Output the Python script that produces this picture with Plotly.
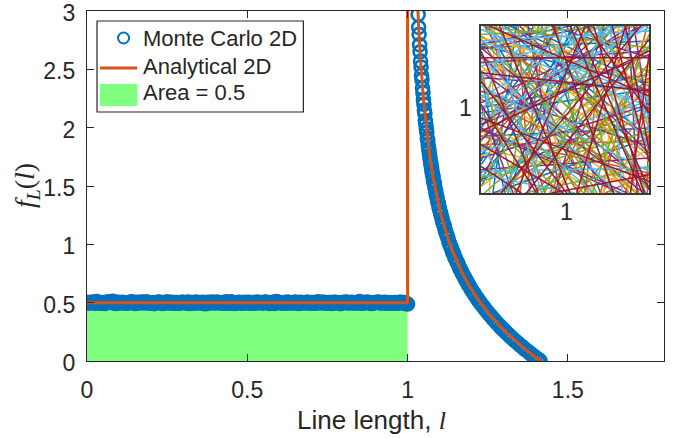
import plotly.graph_objects as go

# ---------------- data ----------------
# Monte Carlo histogram, flat part (0 <= l <= 1)
mc_flat_x = [0.00, 0.01, 0.02, 0.03, 0.04, 0.05, 0.06, 0.07, 0.08, 0.09,
             0.10, 0.11, 0.12, 0.13, 0.14, 0.15, 0.16, 0.17, 0.18, 0.19,
             0.20, 0.21, 0.22, 0.23, 0.24, 0.25, 0.26, 0.27, 0.28, 0.29,
             0.30, 0.31, 0.32, 0.33, 0.34, 0.35, 0.36, 0.37, 0.38, 0.39,
             0.40, 0.41, 0.42, 0.43, 0.44, 0.45, 0.46, 0.47, 0.48, 0.49,
             0.50, 0.51, 0.52, 0.53, 0.54, 0.55, 0.56, 0.57, 0.58, 0.59,
             0.60, 0.61, 0.62, 0.63, 0.64, 0.65, 0.66, 0.67, 0.68, 0.69,
             0.70, 0.71, 0.72, 0.73, 0.74, 0.75, 0.76, 0.77, 0.78, 0.79,
             0.80, 0.81, 0.82, 0.83, 0.84, 0.85, 0.86, 0.87, 0.88, 0.89,
             0.90, 0.91, 0.92, 0.93, 0.94, 0.95, 0.96, 0.97, 0.98, 0.99,
             1.00]
mc_flat_y = [0.503, 0.497, 0.501, 0.509, 0.495, 0.502, 0.498, 0.506, 0.511, 0.494,
             0.500, 0.504, 0.496, 0.499, 0.507, 0.493, 0.501, 0.505, 0.497, 0.502,
             0.498, 0.492, 0.503, 0.500, 0.496, 0.508, 0.499, 0.495, 0.502, 0.497,
             0.504, 0.499, 0.494, 0.501, 0.506, 0.498, 0.503, 0.491, 0.500, 0.505,
             0.497, 0.502, 0.499, 0.496, 0.503, 0.508, 0.494, 0.500, 0.498, 0.504,
             0.501, 0.495, 0.499, 0.506, 0.502, 0.497, 0.503, 0.493, 0.500, 0.509,
             0.504, 0.498, 0.496, 0.502, 0.499, 0.505, 0.494, 0.501, 0.497, 0.503,
             0.500, 0.496, 0.507, 0.498, 0.502, 0.495, 0.501, 0.504, 0.499, 0.492,
             0.503, 0.506, 0.497, 0.500, 0.498, 0.510, 0.496, 0.502, 0.499, 0.494,
             0.501, 0.505, 0.497, 0.503, 0.499, 0.496, 0.502, 0.498, 0.504, 0.500,
             0.488]
# extra histogram bins between the ones above (bin centres offset by half a step)
mc_mid_x = [0.005, 0.015, 0.025, 0.035, 0.045, 0.055, 0.065, 0.075, 0.085, 0.095,
            0.105, 0.115, 0.125, 0.135, 0.145, 0.155, 0.165, 0.175, 0.185, 0.195,
            0.205, 0.215, 0.225, 0.235, 0.245, 0.255, 0.265, 0.275, 0.285, 0.295,
            0.305, 0.315, 0.325, 0.335, 0.345, 0.355, 0.365, 0.375, 0.385, 0.395,
            0.405, 0.415, 0.425, 0.435, 0.445, 0.455, 0.465, 0.475, 0.485, 0.495,
            0.505, 0.515, 0.525, 0.535, 0.545, 0.555, 0.565, 0.575, 0.585, 0.595,
            0.605, 0.615, 0.625, 0.635, 0.645, 0.655, 0.665, 0.675, 0.685, 0.695,
            0.705, 0.715, 0.725, 0.735, 0.745, 0.755, 0.765, 0.775, 0.785, 0.795,
            0.805, 0.815, 0.825, 0.835, 0.845, 0.855, 0.865, 0.875, 0.885, 0.895,
            0.905, 0.915, 0.925, 0.935, 0.945, 0.955, 0.965, 0.975, 0.985, 0.995]
mc_mid_y = [0.499, 0.505, 0.496, 0.502, 0.500, 0.494, 0.507, 0.501, 0.497, 0.503,
            0.498, 0.502, 0.495, 0.506, 0.499, 0.503, 0.497, 0.501, 0.508, 0.496,
            0.502, 0.499, 0.505, 0.493, 0.501, 0.498, 0.504, 0.500, 0.496, 0.503,
            0.497, 0.506, 0.500, 0.495, 0.502, 0.499, 0.494, 0.504, 0.498, 0.501,
            0.505, 0.497, 0.500, 0.507, 0.496, 0.502, 0.499, 0.503, 0.495, 0.498,
            0.504, 0.500, 0.496, 0.501, 0.497, 0.505, 0.499, 0.502, 0.494, 0.503,
            0.498, 0.501, 0.506, 0.497, 0.500, 0.495, 0.503, 0.499, 0.504, 0.496,
            0.502, 0.498, 0.501, 0.505, 0.497, 0.500, 0.494, 0.503, 0.499, 0.496,
            0.501, 0.497, 0.504, 0.498, 0.502, 0.496, 0.500, 0.505, 0.493, 0.499,
            0.503, 0.498, 0.501, 0.496, 0.502, 0.499, 0.495, 0.503, 0.497, 0.493]

# Monte Carlo histogram, decaying part (1 < l <= sqrt(2))
mc_tail_x = [1.0330, 1.0345, 1.0360, 1.0375, 1.0390, 1.0405, 1.0420, 1.0435, 1.0450, 1.0465,
             1.0480, 1.0495, 1.0510, 1.0525, 1.0540, 1.0555, 1.0570, 1.0585, 1.0600, 1.0615,
             1.0630, 1.0645, 1.0660, 1.0675, 1.0690, 1.0705, 1.0720, 1.0735, 1.0750, 1.0765,
             1.0780, 1.0795, 1.0810, 1.0825, 1.0840,
             1.086, 1.088, 1.090, 1.092, 1.094, 1.096, 1.098, 1.100,
             1.1025, 1.105, 1.1075, 1.110, 1.1125, 1.115, 1.1175, 1.120,
             1.123, 1.126, 1.129, 1.132, 1.135, 1.138, 1.141, 1.144, 1.147, 1.150,
             1.154, 1.158, 1.162, 1.166, 1.170, 1.174, 1.178, 1.182, 1.186, 1.190,
             1.195, 1.200, 1.205, 1.210, 1.215, 1.220, 1.225, 1.230,
             1.236, 1.242, 1.248, 1.254, 1.260, 1.266, 1.272, 1.278,
             1.285, 1.292, 1.299, 1.306, 1.313, 1.320, 1.327, 1.334,
             1.342, 1.350, 1.358, 1.366, 1.374, 1.382, 1.390, 1.398, 1.406, 1.413]
mc_tail_y = [2.97, 2.86, 2.80, 2.71, 2.65, 2.57, 2.52, 2.45, 2.41, 2.34,
             2.30, 2.24, 2.20, 2.15, 2.12, 2.06, 2.03, 1.99, 1.96, 1.91,
             1.89, 1.85, 1.82, 1.79, 1.76, 1.73, 1.70, 1.68, 1.65, 1.62,
             1.60, 1.58, 1.55, 1.53, 1.51,
             1.48, 1.45, 1.42, 1.40, 1.37, 1.35, 1.32, 1.30,
             1.27, 1.25, 1.22, 1.19, 1.17, 1.15, 1.12, 1.10,
             1.08, 1.05, 1.02, 1.00, 0.98, 0.96, 0.93, 0.92, 0.89, 0.875,
             0.85, 0.83, 0.80, 0.78, 0.757, 0.733, 0.716, 0.692, 0.676, 0.654,
             0.633, 0.607, 0.588, 0.565, 0.547, 0.524, 0.507, 0.486,
             0.467, 0.443, 0.424, 0.402, 0.385, 0.364, 0.347, 0.327,
             0.308, 0.286, 0.269, 0.248, 0.231, 0.211, 0.195, 0.176,
             0.158, 0.138, 0.121, 0.101, 0.085, 0.066, 0.050, 0.033, 0.017, 0.003]

# Analytical PDF
an_x = [0.0, 1.0, 1.0, 1.005, 1.01, 1.015, 1.02, 1.025, 1.03, 1.035, 1.04, 1.05, 1.06, 1.07,
        1.08, 1.09, 1.10, 1.11, 1.12, 1.13, 1.14, 1.15, 1.16, 1.17, 1.18, 1.19, 1.20, 1.21,
        1.22, 1.23, 1.24, 1.25, 1.26, 1.27, 1.28, 1.29, 1.30, 1.31, 1.32, 1.33, 1.34, 1.35,
        1.36, 1.37, 1.38, 1.39, 1.40, 1.41, 1.4142]
an_y = [0.5, 0.5, 10.0, 9.03, 6.11, 4.82, 4.05, 3.53, 3.14, 2.843, 2.60, 2.23, 1.955, 1.741,
        1.568, 1.423, 1.300, 1.194, 1.101, 1.017, 0.943, 0.875, 0.813, 0.756, 0.704, 0.655, 0.609, 0.566,
        0.526, 0.4875, 0.451, 0.4167, 0.384, 0.352, 0.322, 0.293, 0.265, 0.238, 0.212, 0.187, 0.162, 0.1386,
        0.1155, 0.0930, 0.0711, 0.0497, 0.0289, 0.0085, 0.0]

# Shaded area (unit area = 0.5)
area_x = [0.0, 1.0, 1.0, 0.0]
area_y = [0.0, 0.0, 0.5, 0.5]

# Inset: chords of the unit square, endpoints given as perimeter positions (0..4)
chords = [(0.12, 2.35), (0.45, 1.78), (3.21, 1.44), (0.83, 3.62), (2.10, 3.05), (1.15, 3.87), (0.27, 1.92),
          (2.64, 0.71), (3.44, 1.09), (0.05, 2.92), (1.62, 3.31), (2.28, 0.38), (3.75, 1.55), (0.96, 2.47),
          (1.33, 2.81), (3.08, 0.58), (0.61, 1.27), (2.55, 3.93), (1.88, 0.19), (3.57, 2.02), (0.34, 3.15),
          (1.71, 3.49), (2.97, 0.88), (0.73, 2.18), (3.86, 1.21), (1.06, 2.66), (0.18, 3.71), (2.43, 1.02),
          (3.29, 0.14), (1.49, 2.31), (0.52, 2.73), (3.68, 2.24), (1.95, 0.66), (2.86, 3.58), (0.89, 1.83),
          (3.12, 1.66), (0.41, 2.07), (1.24, 3.18), (2.72, 0.47), (3.93, 1.37), (0.67, 3.41), (1.58, 2.95),
          (2.19, 3.77), (0.09, 1.61), (3.36, 0.93), (1.81, 2.58), (0.77, 2.39), (2.51, 0.29), (3.63, 1.85),
          (1.39, 3.66), (0.23, 2.61), (2.92, 1.19), (3.17, 0.79), (1.02, 2.96), (0.56, 3.89), (2.37, 1.48),
          (3.81, 2.69), (1.69, 0.31), (0.94, 3.24), (2.04, 3.46), (0.31, 1.39), (3.49, 1.99), (1.19, 2.22),
          (2.79, 0.07), (0.64, 2.84), (3.02, 1.73), (1.53, 3.79), (0.14, 2.12), (2.23, 0.84), (3.71, 0.49),
          (1.91, 3.13), (0.86, 1.58), (2.61, 3.34), (3.39, 1.28), (0.47, 3.52), (1.27, 2.53), (2.14, 0.57),
          (3.96, 2.44), (0.71, 2.01), (1.76, 3.96), (2.47, 3.11), (0.02, 1.87), (3.24, 2.16), (1.11, 0.42),
          (2.83, 1.61), (0.38, 2.96), (3.55, 0.68), (1.44, 2.09), (0.92, 3.08), (2.31, 1.26), (3.84, 0.24),
          (1.64, 2.74), (0.58, 1.51), (2.68, 3.69), (3.14, 2.34), (0.21, 3.27), (1.97, 3.09), (0.79, 2.57),
          (2.41, 3.83), (3.66, 1.12), (1.36, 0.72), (0.44, 2.27), (2.99, 1.87), (3.31, 2.59), (1.07, 3.55),
          (0.16, 2.46), (2.58, 0.94), (3.78, 1.71), (1.85, 3.22), (0.69, 2.91), (2.16, 1.37), (3.47, 0.33),
          (1.22, 2.86), (0.99, 1.69), (2.74, 3.44), (3.59, 2.11), (0.26, 1.16), (1.57, 3.02), (2.05, 0.12),
          (0.07, 1.33), (2.33, 3.74), (1.41, 2.69), (3.27, 0.97), (0.62, 2.55), (1.13, 3.36), (2.89, 0.53),
          (3.52, 1.62), (0.29, 2.78), (1.67, 3.07), (2.12, 0.93), (3.91, 1.46), (0.81, 3.19), (1.26, 2.14),
          (2.53, 3.61), (3.06, 1.34), (0.42, 1.66), (1.83, 3.59), (2.66, 0.16), (3.43, 2.29), (0.97, 2.33),
          (1.52, 3.92), (2.27, 0.62), (3.73, 1.03), (0.19, 3.48), (1.72, 2.44), (2.94, 0.36), (3.19, 1.81),
          (0.66, 2.98), (1.31, 3.71), (2.08, 3.27), (3.61, 0.87), (0.36, 1.74), (1.47, 2.88), (2.38, 0.21),
          (3.88, 2.07), (0.74, 1.12), (1.93, 3.64), (2.77, 1.24), (3.34, 0.61), (0.11, 2.24), (1.61, 3.28),
          (2.49, 0.98), (3.69, 2.53), (0.88, 2.42), (1.04, 3.13), (2.21, 3.91), (3.09, 1.52), (0.51, 3.33)]

matlab_colors = ['#0072BD', '#D95319', '#EDB120', '#7E2F8E', '#77AC30', '#4DBEEE', '#A2142F']


def perim(t):
    if t < 1:
        return t, 0.0
    if t < 2:
        return 1.0, t - 1
    if t < 3:
        return 3 - t, 1.0
    return 0.0, 4 - t


# ---------------- figure ----------------
AX = '#262626'
SANS = 'Liberation Sans'
SERIF = 'Liberation Serif'

fig = go.Figure()

fig.add_trace(go.Scatter(x=area_x, y=area_y, fill='toself', fillcolor='#80FF80',
                         mode='lines', line=dict(width=0), hoverinfo='skip'))

fig.add_trace(go.Scatter(x=mc_flat_x + mc_mid_x + mc_tail_x, y=mc_flat_y + mc_mid_y + mc_tail_y,
                         mode='markers',
                         marker=dict(symbol='circle-open', size=13, color='#0072BD',
                                     line=dict(width=2.6, color='#0072BD'))))

fig.add_trace(go.Scatter(x=an_x, y=an_y, mode='lines', line=dict(color='#D95319', width=3)))

for c, col in enumerate(matlab_colors):
    xs, ys = [], []
    for i, (t0, t1) in enumerate(chords):
        if i % len(matlab_colors) != c:
            continue
        x0, y0 = perim(t0)
        x1, y1 = perim(t1)
        xs += [x0, x1, None]
        ys += [y0, y1, None]
    fig.add_trace(go.Scatter(x=xs, y=ys, mode='lines', line=dict(color=col, width=1.5),
                             xaxis='x2', yaxis='y2', hoverinfo='skip'))

axis_common = dict(showgrid=False, zeroline=False, showline=True, linecolor=AX, linewidth=1.3,
                   mirror='ticks', ticks='inside', ticklen=7, tickwidth=1.3, tickcolor=AX,
                   ticklabeloverflow='allow', automargin=False,
                   tickfont=dict(family=SANS, size=23, color=AX))

inset_common = dict(range=[0, 1], showticklabels=False, ticks='', automargin=False,
                    showgrid=False, zeroline=False, showline=True, mirror=True,
                    linecolor='#3a3a3a', linewidth=2)

fig.update_layout(
    width=674, height=438,
    margin=dict(l=87, r=10, t=11, b=77, pad=0, autoexpand=False),
    paper_bgcolor='white', plot_bgcolor='white',
    showlegend=False,
    xaxis=dict(range=[0, 1.8], tickvals=[0, 0.5, 1, 1.5], ticktext=['0', '0.5', '1', '1.5'],
               ticklabelstandoff=8, **axis_common),
    yaxis=dict(range=[0, 3], tickvals=[0, 0.5, 1, 1.5, 2, 2.5, 3],
               ticktext=['0', '0.5', '1', '1.5', '2', '2.5', '3'],
               ticklabelstandoff=6, ticklabelshift=2, **axis_common),
    xaxis2=dict(domain=[0.683, 0.974], anchor='y2', **inset_common),
    yaxis2=dict(domain=[0.48, 0.957], anchor='x2', **inset_common),
)

# ---- legend (drawn manually to match MATLAB style) ----
def px_x(p):
    return (p - 87) / 320.0


def px_y(p):
    return (361 - p) / (350 / 3.0)


shapes = [
    dict(type='rect', xref='x', yref='y', x0=px_x(97), x1=px_x(303), y0=px_y(112), y1=px_y(21),
         line=dict(color=AX, width=1.2), fillcolor='white', layer='above'),
    dict(type='circle', xref='x', yref='y', x0=px_x(118), x1=px_x(129), y0=px_y(43.5), y1=px_y(32.5),
         line=dict(color='#0072BD', width=2), fillcolor='rgba(0,0,0,0)', layer='above'),
    dict(type='line', xref='x', yref='y', x0=px_x(100), x1=px_x(137), y0=px_y(68), y1=px_y(68),
         line=dict(color='#D95319', width=3), layer='above'),
    dict(type='rect', xref='x', yref='y', x0=px_x(100), x1=px_x(137), y0=px_y(106), y1=px_y(84),
         line=dict(width=0), fillcolor='#80FF80', layer='above'),
]
fig.update_layout(shapes=shapes)

ann = []
for label, ypx in [('Monte Carlo 2D', 38), ('Analytical 2D', 66), ('Area = 0.5', 92)]:
    ann.append(dict(text=label, xref='x', yref='y', x=px_x(141), y=px_y(ypx), xanchor='left',
                    yanchor='middle', showarrow=False, font=dict(family=SANS, size=22, color=AX)))

# axis titles
ann.append(dict(text="Line length, <span style='font-family:Liberation Serif'><i>l</i></span>",
                xref='paper', yref='paper', x=(371 - 87) / 577, y=-(420 - 361) / 350,
                xanchor='center', yanchor='middle', showarrow=False,
                font=dict(family=SANS, size=26, color=AX)))
ann.append(dict(text="<i>f</i><sub><i>L</i></sub>(<i>l</i>)",
                xref='paper', yref='paper', x=-(87 - 26) / 577, y=(361 - 186) / 350,
                xanchor='center', yanchor='middle', textangle=-90, showarrow=False,
                font=dict(family=SERIF, size=28, color=AX)))
# inset labels
ann.append(dict(text='1', xref='paper', yref='paper', x=(465 - 87) / 577, y=(361 - 108) / 350,
                xanchor='center', yanchor='middle', showarrow=False,
                font=dict(family=SANS, size=23, color=AX)))
ann.append(dict(text='1', xref='paper', yref='paper', x=(566 - 87) / 577, y=(361 - 212) / 350,
                xanchor='center', yanchor='middle', showarrow=False,
                font=dict(family=SANS, size=23, color=AX)))
fig.update_layout(annotations=ann)

fig.write_html("out.html")
